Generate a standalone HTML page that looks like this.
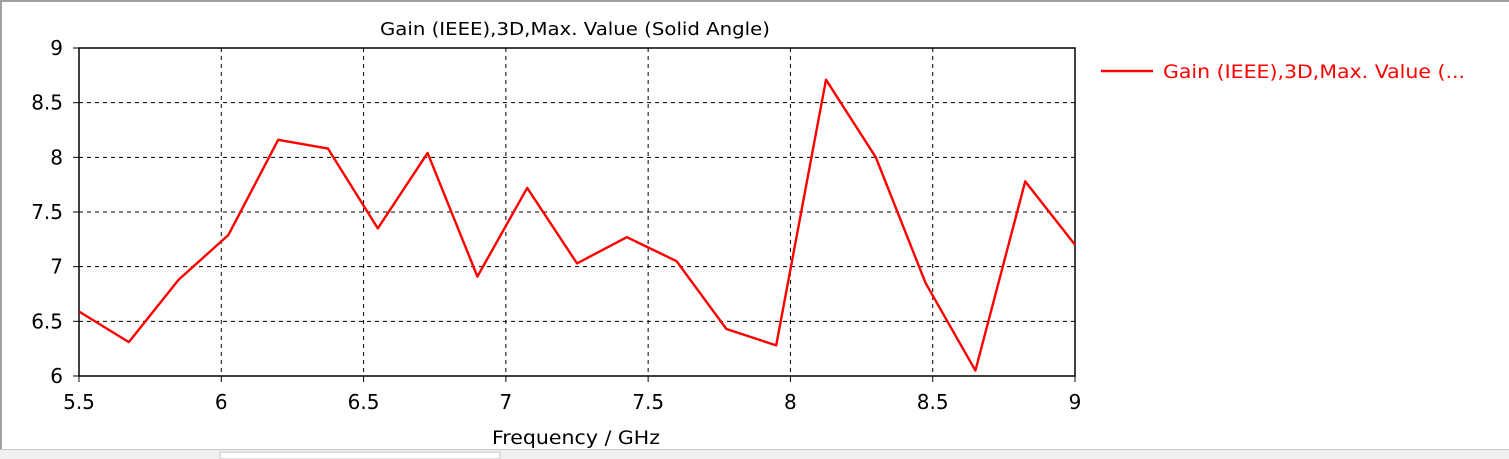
<!DOCTYPE html>
<html><head><meta charset="utf-8"><style>
html,body{margin:0;padding:0;background:#fff;}
svg{display:block;font-family:"DejaVu Sans","Liberation Sans",sans-serif;}
</style></head><body>
<svg id="chart" width="1509" height="459">
<rect x="0" y="0" width="1509" height="459" fill="#fff"/>
<rect x="0" y="0" width="1509" height="2" fill="#a0a0a0"/>
<rect x="0" y="0" width="2" height="452" fill="#a0a0a0"/>
<rect x="0" y="449" width="1509" height="10" fill="#f0f0f0"/>
<rect x="0" y="449" width="1509" height="1" fill="#c8c8c8"/>
<rect x="220" y="452" width="280" height="7" fill="#fff" stroke="#c8c8c8"/>
<text x="380" y="35" font-size="18" textLength="390" lengthAdjust="spacingAndGlyphs" fill="#000">Gain (IEEE),3D,Max. Value (Solid Angle)</text>
<g id="grid"></g>
<g id="axes"></g>
<polyline id="series" fill="none" stroke="#ff0000" stroke-width="2.4" stroke-linejoin="round"/>
<text x="492" y="444" font-size="19" textLength="168" lengthAdjust="spacingAndGlyphs" fill="#000">Frequency / GHz</text>
<line x1="1101" y1="71" x2="1153" y2="71" stroke="#ff0000" stroke-width="2.4"/>
<text x="1163" y="78" font-size="19" textLength="302" lengthAdjust="spacingAndGlyphs" fill="#ff0000">Gain (IEEE),3D,Max. Value (...</text>
</svg>
<script>
const freqs = [5.5,5.675,5.85,6.025,6.2,6.375,6.55,6.725,6.9,7.075,7.25,7.425,7.6,7.775,7.95,8.125,8.3,8.475,8.65,8.825,9];
const gains = [6.59,6.31,6.88,7.29,8.16,8.08,7.35,8.04,6.91,7.72,7.03,7.27,7.05,6.43,6.28,8.71,8.0,6.85,6.05,7.78,7.2];
const xTicks = [5.5,6,6.5,7,7.5,8,8.5,9];
const yTicks = [6,6.5,7,7.5,8,8.5,9];
const X0=79,X1=1075,Y0=376,Y1=48;
const xs=v=>X0+(v-5.5)/(9-5.5)*(X1-X0);
const ys=v=>Y0-(v-6)/(9-6)*(Y0-Y1);
const NS="http://www.w3.org/2000/svg";
const grid=document.getElementById('grid'), axes=document.getElementById('axes');
function mk(tag,attrs,parent){const e=document.createElementNS(NS,tag);for(const k in attrs)e.setAttribute(k,attrs[k]);parent.appendChild(e);return e;}
xTicks.forEach(t=>{
  const x=xs(t);
  if(t>5.5&&t<9){const g=mk('line',{x1:x,y1:Y1,x2:x,y2:Y0,stroke:'#000','stroke-width':1,'stroke-dasharray':'4,4'},grid);
  
  }
  const tk=mk('line',{x1:x,y1:Y0,x2:x,y2:Y0+6,stroke:'#000'},axes);
  
  
  const l=mk('text',{x:x,y:Y0+33,'font-size':20,'text-anchor':'middle'},axes);l.textContent=String(t);
  
  
});
yTicks.forEach(t=>{
  const y=ys(t);
  if(t>6&&t<9){const g=mk('line',{x1:X0,y1:y,x2:X1,y2:y,stroke:'#000','stroke-width':1,'stroke-dasharray':'4,4'},grid);
  
  }
  const tk=mk('line',{x1:X0-6,y1:y,x2:X0,y2:y,stroke:'#000'},axes);
  
  
  const l=mk('text',{x:X0-16,y:y+7,'font-size':20,'text-anchor':'end'},axes);l.textContent=String(t);
  
  
});
const box=mk('rect',{x:X0,y:Y1,width:X1-X0,height:Y0-Y1,fill:'none',stroke:'#000','stroke-width':1.5},axes);


document.getElementById('series').setAttribute('points',freqs.map((f,i)=>xs(f)+','+ys(gains[i])).join(' '));
</script>
</body></html>
